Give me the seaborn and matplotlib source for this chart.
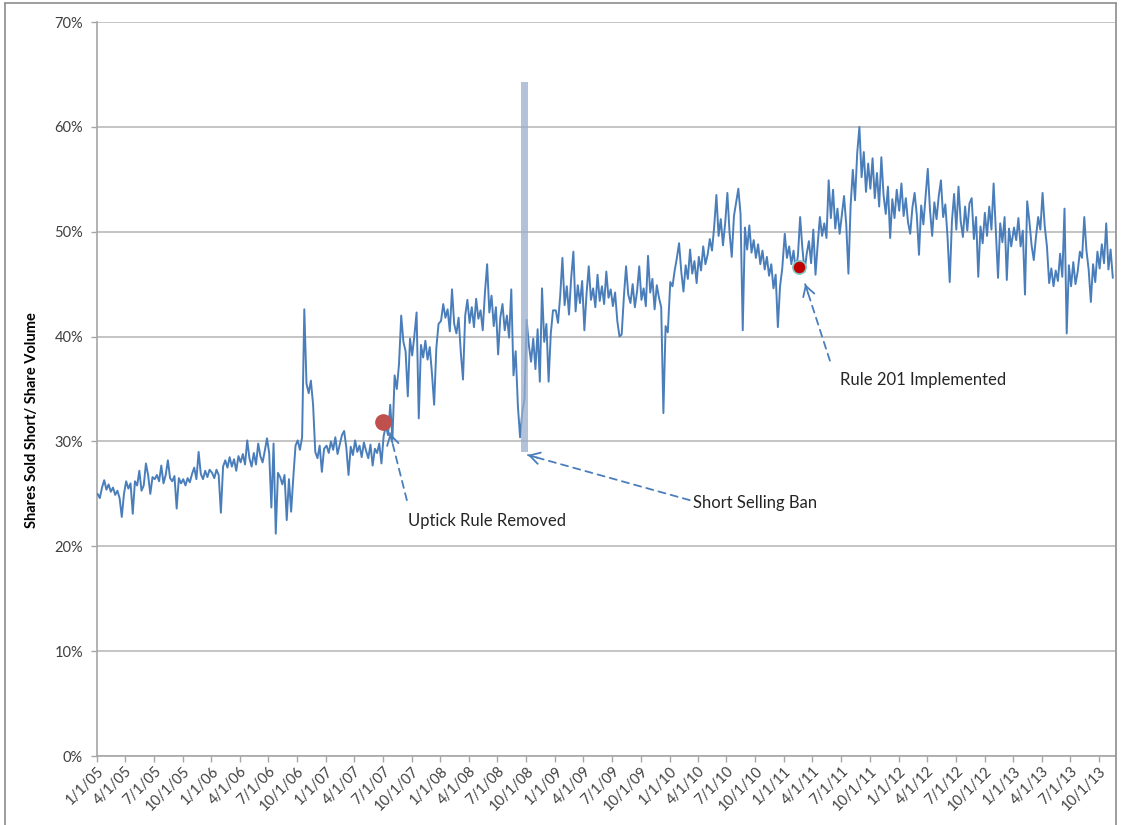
"""
short selling share of volume, weekly readings 2005-2013
output: out.png
"""

import numpy as np
import pandas as pd
import matplotlib
matplotlib.use('Agg')
from matplotlib import pyplot as plt
from matplotlib.lines import Line2D
import matplotlib.dates as mdates
from matplotlib.ticker import FuncFormatter
import seaborn as sns

# data (percent, one reading per week)
pct_2005 = [25.0, 24.6, 25.6, 26.3, 25.4, 25.9, 25.2, 25.6, 24.9, 25.3, 24.6, 22.8, 25.0,
            26.2, 25.5, 26.0, 23.1, 26.2, 25.8, 27.2, 25.3, 25.8, 27.9, 26.8, 25.0, 26.6,
            26.4, 26.8, 26.2, 27.7, 26.0, 26.8, 28.2, 26.5, 26.2, 26.7, 23.6, 26.5, 26.0,
            26.4, 25.8, 26.5, 26.1, 26.9, 27.5, 26.4, 29.0, 26.9, 26.4, 27.2, 26.6, 27.3]
pct_2006 = [27.0, 26.5, 27.3, 26.8, 23.2, 27.6, 28.2, 27.5, 28.5, 27.6, 28.3, 27.2, 28.6,
            28.0, 28.8, 27.8, 30.1, 28.4, 27.6, 28.9, 27.8, 29.8, 28.6, 28.0, 29.1, 30.3,
            28.9, 23.7, 29.8, 21.2, 27.0, 26.6, 25.9, 26.8, 22.5, 26.4, 23.3, 26.6, 29.6,
            30.1, 29.2, 30.4, 42.6, 35.5, 34.6, 35.8, 33.5, 29.0, 28.4, 29.6, 27.1, 29.3]
pct_2007 = [29.6, 28.9, 30.0, 29.2, 30.4, 28.8, 29.7, 30.6, 31.0, 29.4, 26.8, 29.5, 28.7,
            30.1, 29.0, 29.6, 28.5, 29.9, 29.1, 28.4, 29.7, 27.7, 29.3, 28.9, 29.8, 27.9,
            30.5, 31.5, 30.6, 33.5, 30.2, 36.3, 35.0, 37.4, 42.0, 39.5, 38.6, 34.3, 39.8,
            38.2, 40.1, 42.3, 32.2, 39.2, 38.0, 39.6, 37.8, 39.0, 36.5, 33.5, 38.9, 41.2]
pct_2008 = [41.5, 43.1, 41.8, 42.6, 40.5, 44.5, 41.2, 40.3, 41.8, 38.5, 35.9, 42.0, 43.5,
            41.3, 42.8, 40.9, 43.6, 41.7, 42.5, 40.6, 44.2, 46.9, 42.3, 43.9, 41.0, 42.8,
            38.3, 41.8, 43.1, 40.6, 42.0, 39.9, 44.5, 36.3, 38.6, 33.4, 30.4, 32.8, 34.0,
            41.6, 39.2, 37.6, 39.8, 36.9, 40.7, 35.7, 44.6, 39.5, 41.2, 35.7, 40.3, 42.5]
pct_2009 = [42.5, 41.3, 43.9, 47.5, 43.0, 44.8, 42.1, 45.6, 48.1, 42.4, 44.9, 43.2, 45.3,
            40.6, 44.1, 46.7, 43.5, 44.6, 42.8, 45.9, 43.4, 44.8, 43.1, 46.2, 43.7, 44.5,
            42.9, 44.2, 41.5, 40.0, 40.2, 43.8, 46.7, 44.0, 43.2, 45.0, 42.8, 44.3, 46.7,
            43.5, 44.6, 42.9, 47.7, 44.2, 45.5, 42.6, 44.9, 43.7, 42.8, 32.7, 41.0, 40.4]
pct_2010 = [45.2, 44.8, 46.3, 47.5, 48.9, 46.2, 44.3, 46.8, 45.5, 48.3, 46.0, 47.2, 45.1,
            47.6, 46.3, 48.6, 46.9, 47.8, 49.3, 48.2, 50.5, 53.5, 49.6, 51.2, 48.7, 50.8,
            53.7, 49.9, 47.6, 51.5, 52.8, 54.1, 51.7, 40.6, 50.4, 48.3, 50.6, 48.0, 49.2,
            47.5, 48.8, 46.9, 48.2, 46.4, 47.6, 45.8, 46.9, 44.6, 45.9, 40.9, 44.8, 46.5]
pct_2011 = [49.8, 47.5, 48.6, 46.9, 48.2, 46.3, 47.7, 51.4, 48.5, 46.2, 47.9, 49.1, 47.0,
            50.2, 45.9, 48.8, 51.4, 49.6, 50.8, 49.4, 54.9, 51.3, 54.0, 50.3, 52.2, 49.8,
            51.6, 53.4, 50.7, 46.0, 52.5, 55.9, 53.0, 57.5, 60.0, 55.2, 57.6, 53.8, 56.5,
            54.1, 57.0, 53.2, 55.6, 52.4, 57.1, 53.5, 51.7, 54.3, 49.4, 53.1, 51.3, 54.0]
pct_2012 = [52.0, 54.6, 51.5, 53.2, 50.9, 49.8, 52.3, 53.7, 51.6, 47.8, 52.5, 50.7, 53.4,
            56.0, 52.1, 49.6, 52.8, 51.2, 53.4, 54.9, 51.4, 52.6, 49.5, 45.2, 51.0, 53.6,
            50.2, 54.3, 51.0, 49.5, 52.4, 50.1, 52.7, 53.2, 49.3, 51.4, 45.7, 50.5, 48.9,
            51.8, 49.6, 52.4, 50.2, 54.6, 50.0, 45.6, 50.8, 49.0, 51.4, 45.4, 50.3, 48.6]
pct_2013 = [50.4, 49.2, 51.3, 48.6, 50.1, 44.0, 52.9, 51.0, 48.7, 47.3, 49.5, 51.4, 50.2,
            53.7, 50.5, 48.6, 45.1, 46.5, 44.8, 46.3, 45.3, 47.9, 45.7, 52.2, 40.3, 46.8,
            44.8, 47.1, 45.0, 46.2, 48.1, 47.5, 51.4, 48.2, 46.4, 43.3, 46.9, 45.2, 48.1,
            46.5, 48.8, 47.0, 50.8, 46.4, 48.3, 45.6]

years = {2005: pct_2005, 2006: pct_2006, 2007: pct_2007, 2008: pct_2008, 2009: pct_2009,
         2010: pct_2010, 2011: pct_2011, 2012: pct_2012, 2013: pct_2013}

# events
event_dates = ['2007-07-02', '2011-02-18']
event_values = [31.9, 46.6]
ban_start, ban_end = '2008-09-13', '2008-10-07'
ban_low, ban_high = 29.0, 64.3

# constants
W, H = 1133, 825
LINE_BLUE = '#4a7ebb'
GRID = '#bfbfbf'
TEXT = '#262626'

df = pd.concat([pd.DataFrame({'date': pd.date_range(f'{y}-01-03', periods=len(v), freq='7D'),
                              'pct': v}) for y, v in years.items()], ignore_index=True)

#
# plot
sns.set_theme(style='white')
plt.rcParams['font.family'] = ['Lato', 'DejaVu Sans']

fig = plt.figure(figsize=(W / 100, H / 100), dpi=100)
ax = fig.add_axes([97 / W, 1 - 756 / H, (1115 - 97) / W, (756 - 22) / H])

sns.lineplot(data=df, x='date', y='pct', color=LINE_BLUE, lw=1.4, ax=ax, zorder=3)

ax.fill_between(pd.to_datetime([ban_start, ban_end]), ban_low, ban_high,
                color='#9aaecb', alpha=0.75, lw=0, zorder=4)

ax.plot(pd.to_datetime(event_dates[:1]), event_values[:1], 'o', ms=11,
        color='#c0504d', mec='#c0504d', zorder=5)
ax.plot(pd.to_datetime(event_dates[1:]), event_values[1:], 'o', ms=9.5,
        color='#c00000', mec='#7fc9c9', mew=1.2, zorder=5)

# axes
ax.set_ylim(0, 70)
ax.set_xlim(pd.Timestamp('2005-01-01'), pd.Timestamp('2013-11-21'))
ax.set_yticks(np.arange(0, 71, 10))
ax.yaxis.set_major_formatter(FuncFormatter(lambda v, p: f'{v:.0f}%'))
qticks = pd.date_range('2005-01-01', '2013-10-01', freq='QS')
ax.set_xticks(qticks)
ax.set_xticklabels([f'{d.month}/{d.day}/{d.year % 100:02d}' for d in qticks],
                   rotation=45, ha='right', rotation_mode='anchor')
ax.grid(True, axis='y', color=GRID, lw=1.3)
ax.set_axisbelow(True)
ax.tick_params(axis='both', direction='out', length=4, width=1, color='#a6a6a6',
               labelsize=10.5, labelcolor='#404040')
ax.tick_params(axis='y', left=True, pad=6)
ax.tick_params(axis='x', bottom=True, pad=2)
for s in ['top', 'right']:
    ax.spines[s].set_visible(False)
for s in ['left', 'bottom']:
    ax.spines[s].set_color('#a6a6a6')
    ax.spines[s].set_linewidth(1.2)
ax.set_xlabel('')
ax.set_ylabel('Shares Sold Short/ Share Volume', fontsize=10.5, fontweight='bold', color='black')
ax.yaxis.set_label_coords(-0.057, 0.457)

# annotations
def arrow(head, tail):
    hx, tx = mdates.date2num(pd.Timestamp(head[0])), mdates.date2num(pd.Timestamp(tail[0]))
    ax.annotate('', xy=(hx, head[1]), xytext=(tx, tail[1]),
                arrowprops=dict(arrowstyle='-', linestyle=(0, (4, 3)), color=LINE_BLUE,
                                lw=1.3, shrinkA=0, shrinkB=0), zorder=6)
    ph = ax.transData.transform((hx, head[1]))
    pt = ax.transData.transform((tx, tail[1]))
    u = (pt - ph) / np.hypot(*(pt - ph))
    near = ax.transData.inverted().transform(ph + u * 10)
    ax.annotate('', xy=(hx, head[1]), xytext=near,
                arrowprops=dict(arrowstyle='->,head_length=0.6,head_width=0.35', color=LINE_BLUE,
                                lw=1.3, shrinkA=0, shrinkB=0), zorder=6)

arrow(('2007-07-24', 30.8), ('2007-09-16', 24.4))
arrow(('2008-10-06', 28.7), ('2010-03-06', 24.4))
arrow(('2011-03-09', 45.0), ('2011-05-27', 37.7))

ax.text(pd.Timestamp('2007-09-20'), 22.4, 'Uptick Rule Removed', fontsize=12, color=TEXT, va='center')
ax.text(pd.Timestamp('2010-03-16'), 24.1, 'Short Selling Ban', fontsize=12, color=TEXT, va='center')
ax.text(pd.Timestamp('2011-06-28'), 35.9, 'Rule 201 Implemented', fontsize=12, color=TEXT, va='center')

# chart area frame
for xs, ys in [((5, 5), (0, H - 3)), ((5, 1116), (H - 3, H - 3)), ((1116, 1116), (0, H - 3))]:
    fig.add_artist(Line2D([x / W for x in xs], [y / H for y in ys], color='#8c8c8c', lw=1.2))

fig.savefig('out.png', dpi=100)
